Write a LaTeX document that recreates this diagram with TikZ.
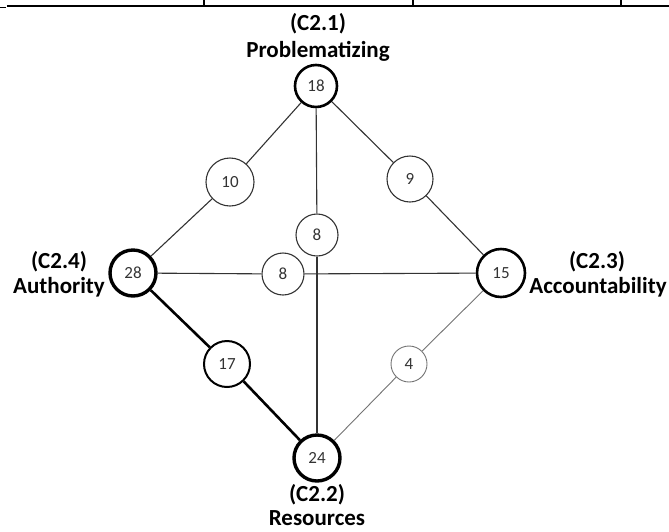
\documentclass[tikz,border=0pt]{standalone}
\usepackage{fontspec}
\setmainfont{Carlito}
\begin{document}
\begin{tikzpicture}[x=1pt,y=-1pt,
  numfont/.style={font=\fontsize{17}{19}\selectfont,text=black!80},
  hub/.style={circle,draw=black,inner sep=0pt,numfont},
  mid/.style={circle,draw=black!80,line width=1.1pt,inner sep=0pt,numfont},
  cat/.style={anchor=base,font=\bfseries\fontsize{23}{26}\selectfont},
  link/.style={draw=black!80,line width=1.1pt},
  boldlink/.style={draw=black,line width=2.6pt},
  faintlink/.style={draw=black!55,line width=0.9pt},
  rule/.style={draw=black,line width=1.6pt}]
  \useasboundingbox (0,0) rectangle (669,531);

  % table rule running across the top
  \draw[rule] (7,6) -- (669,6);
  \draw[rule] (0,7.5) -- (6,7.5);
  \draw[rule] (204,0) -- (204,6);
  \draw[rule] (413,0) -- (413,6);
  \draw[rule] (621,0) -- (621,6);

  % category hubs
  \node[hub,line width=2.6pt,minimum size=42pt] (p) at (316,86) {18};
  \node[hub,line width=3.4pt,minimum size=46pt] (res) at (317,458) {24};
  \node[hub,line width=2.6pt,minimum size=48pt] (acc) at (501,273) {15};
  \node[hub,line width=3.4pt,minimum size=46pt] (aut) at (133,273) {28};

  % pairwise counts
  \node[mid,minimum size=48pt] (pa) at (230,182) {10};
  \node[mid,minimum size=46pt] (pc) at (410,179) {9};
  \node[mid,minimum size=42pt] (pr) at (317,235) {8};
  \node[mid,minimum size=42pt] (ac) at (283,274) {8};
  \node[mid,line width=2pt,draw=black,minimum size=46pt] (ar) at (227,364) {17};
  \node[mid,draw=black!55,line width=0.9pt,minimum size=36pt] (rc) at (409,364) {4};

  % connectors
  \draw[link] (p) -- (pa);
  \draw[link] (pa) -- (aut);
  \draw[link] (p) -- (pc);
  \draw[link] (pc) -- (acc);
  \draw[link] (p) -- (pr);
  \draw[link] (pr) -- (res);
  \draw[link] (aut) -- (ac);
  \draw[link] (ac) -- (acc);
  \draw[boldlink] (aut) -- (ar);
  \draw[boldlink] (ar) -- (res);
  \draw[faintlink] (res) -- (rc);
  \draw[faintlink] (rc) -- (acc);

  % category labels
  \node[cat] (l1a) at (318,30) {(C2.1)};
  \node[cat] (l1b) at (318,57) {Problematizing};
  \node[cat] (l2a) at (317,501) {(C2.2)};
  \node[cat] (l2b) at (317,525) {Resources};
  \node[cat] (l3a) at (597,268) {(C2.3)};
  \node[cat] (l3b) at (598,293) {Accountability};
  \node[cat] (l4a) at (59,268) {(C2.4)};
  \node[cat] (l4b) at (59,293) {Authority};
\end{tikzpicture}
\end{document}
